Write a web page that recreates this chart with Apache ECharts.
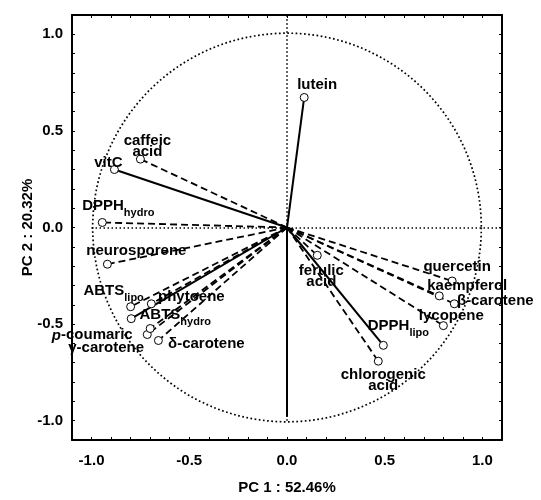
<!DOCTYPE html>
<html>
<head>
<meta charset="utf-8">
<script src="https://cdn.jsdelivr.net/npm/echarts@6/dist/echarts.min.js"></script>
<style>
html,body{margin:0;padding:0;background:#fff;}
#c{width:541px;height:500px;}
</style>
</head>
<body>
<div id="c"></div>
<script>
// ---- data ----
const variables = ['lutein','caffeic\nacid','vitC','DPPH_hydro','neurosporene','ABTS_lipo','phytoene','ABTS_hydro',
  'p-coumaric','γ-carotene','δ-carotene','ferulic\nacid','quercetin','kaempferol','β-carotene','lycopene','DPPH_lipo','chlorogenic\nacid'];
const pc1 = [0.088,-0.750,-0.883,-0.945,-0.919,-0.800,-0.694,-0.797,-0.715,-0.700,-0.658,0.155,0.845,0.779,0.856,0.800,0.493,0.467];
const pc2 = [0.673,0.354,0.300,0.026,-0.190,-0.410,-0.395,-0.472,-0.554,-0.523,-0.585,-0.144,-0.277,-0.354,-0.395,-0.508,-0.610,-0.692];
// extra unlabeled vector along PC 2
const extraVector = [0.0, -0.98];
const axisMin = -1.1, axisMax = 1.1, tickStep = 0.1;
const xTitle = 'PC 1 : 52.46%';
const yTitle = 'PC 2 : 20.32%';

// ---- styles (not data) ----
const solidSet = {'lutein':1,'vitC':1,'ABTS_hydro':1,'DPPH_lipo':1};
const labelOffsets = [[13,-13],[7,-13],[-6,-7],[16,-14],[29,-13],[-17,-13],[40,-7],[44,-1],
  [-55,1],[-44,19],[48,3],[4,21],[5,-14],[28,-10],[41,-3],[8,-10],[15,-17],[5,19]];

const FONT = '"Liberation Sans", Arial, Helvetica, sans-serif';

function richText(name){
  if (name.indexOf('_') >= 0){
    const p = name.split('_');
    return '{b|' + p[0] + '}{s|' + p[1] + '}';
  }
  if (name === 'p-coumaric') return '{i|p}{b|-coumaric}';
  return name.split('\n').map(t => '{m|' + t + '}').join('\n');
}

const lineData = variables.map((n,i) => ({
  coords: [[0,0],[pc1[i],pc2[i]]],
  lineStyle: solidSet[n] ? {type:'solid', width:2} : {type:[7,4], width:1.8}
}));
lineData.push({coords:[[0,0],extraVector], lineStyle:{type:'solid', width:2}});

const refLines = [
  {coords:[[-1,0],[axisMax,0]]},
  {coords:[[0,-1],[0,axisMax]]}
];

const scatterData = variables.map((n,i) => ({
  value:[pc1[i],pc2[i]],
  label:{ formatter: richText(n), offset: labelOffsets[i] }
}));

function tickFmt(v){
  if (Math.abs(v*2 - Math.round(v*2)) > 1e-6) return '';
  if (Math.abs(v) < 1e-9) return '0.0';
  return v.toFixed(1);
}

const axisCommon = {
  type:'value', min:axisMin, max:axisMax, interval:tickStep,
  axisLine:{show:true, onZero:false, lineStyle:{color:'#000', width:2}},
  axisTick:{show:true, inside:true, length:3, lineStyle:{color:'#000', width:1}},
  splitLine:{show:false}
};

const chart = echarts.init(document.getElementById('c'));
chart.setOption({
  animation:false,
  backgroundColor:'#fff',
  grid:{left:72, right:39, top:15, bottom:56},
  xAxis:[
    Object.assign({}, axisCommon, {position:'bottom',
      name:xTitle, nameLocation:'middle', nameGap:40, nameMoveOverlap:false,
      nameTextStyle:{color:'#000', fontWeight:'bold', fontSize:15, fontFamily:FONT},
      axisLabel:{formatter:tickFmt, color:'#000', fontWeight:'bold', fontSize:15, fontFamily:FONT, margin:13, showMinLabel:true, showMaxLabel:true}}),
    Object.assign({}, axisCommon, {position:'top', axisLabel:{show:false}})
  ],
  yAxis:[
    Object.assign({}, axisCommon, {position:'left',
      name:yTitle, nameLocation:'middle', nameGap:37, nameMoveOverlap:false,
      nameTextStyle:{color:'#000', fontWeight:'bold', fontSize:15, fontFamily:FONT},
      axisLabel:{formatter:tickFmt, color:'#000', fontWeight:'bold', fontSize:15, fontFamily:FONT, margin:9}}),
    Object.assign({}, axisCommon, {position:'right', axisLabel:{show:false}})
  ],
  series:[
    {
      type:'custom', xAxisIndex:0, yAxisIndex:0, silent:true, z:1,
      data:[[0,0]],
      renderItem:function(params, api){
        const c = api.coord([0,0]);
        const s = api.size([1,1]);
        return {type:'circle', shape:{cx:c[0], cy:c[1], r:(s[0]+s[1])/2},
          style:{fill:'none', stroke:'#000', lineWidth:1.7, lineDash:[1.7,2.5]}};
      }
    },
    {
      type:'lines', coordinateSystem:'cartesian2d', xAxisIndex:0, yAxisIndex:0, silent:true, z:2,
      lineStyle:{color:'#000', type:[1.5,2.5], width:1.6, opacity:1},
      data:refLines
    },
    {
      type:'lines', coordinateSystem:'cartesian2d', xAxisIndex:0, yAxisIndex:0, silent:true, z:3,
      lineStyle:{color:'#000', opacity:1},
      data:lineData
    },
    {
      type:'scatter', xAxisIndex:0, yAxisIndex:0, z:4, silent:true,
      symbol:'circle', symbolSize:8,
      itemStyle:{color:'#fff', borderColor:'#000', borderWidth:1, opacity:1},
      label:{
        show:true, position:'inside', align:'center', verticalAlign:'middle',
        color:'#000', fontFamily:FONT, fontWeight:'bold', fontSize:15,
        rich:{
          b:{color:'#000', fontFamily:FONT, fontWeight:'bold', fontSize:15, lineHeight:16, verticalAlign:'top'},
          s:{color:'#000', fontFamily:FONT, fontWeight:'bold', fontSize:11, lineHeight:20, verticalAlign:'bottom'},
          i:{color:'#000', fontFamily:FONT, fontWeight:'bold', fontStyle:'italic', fontSize:15, lineHeight:16},
          m:{color:'#000', fontFamily:FONT, fontWeight:'bold', fontSize:15, lineHeight:11}
        }
      },
      data:scatterData
    }
  ]
});
</script>
</body>
</html>
